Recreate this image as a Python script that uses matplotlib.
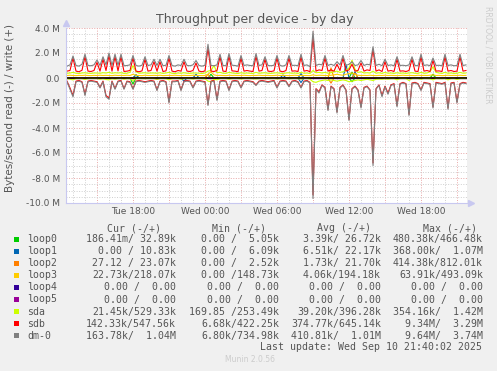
import matplotlib
matplotlib.use("Agg")
import matplotlib.pyplot as plt
import matplotlib.dates as mdates
from matplotlib.patches import Rectangle
from matplotlib.ticker import FuncFormatter
import numpy as np
import pandas as pd

# 15 minute samples, Tue 12:30 -> Wed 21:45
times = pd.date_range("2025-09-09 12:30", periods=134, freq="15min")
n = len(times)

# values in MB/s, write (+)
dm0_w = [0.95, 1.05, 1.76, 1.0, 0.95, 1.1, 1.9, 1.0, 0.98, 1.05,
         1.44, 1.0, 1.7, 1.05, 2.0, 1.0, 1.9, 1.02, 1.9, 0.98,
         1.0, 1.05, 1.8, 1.0, 0.95, 1.02, 1.7, 1.0, 1.05, 1.5,
         1.0, 1.5, 0.98, 1.02, 1.8, 1.0, 0.95, 1.05, 1.0, 1.5,
         1.0, 0.98, 1.05, 1.4, 1.0, 0.95, 1.02, 2.7, 1.0, 0.98,
         1.05, 1.9, 1.0, 0.98, 1.95, 1.02, 1.0, 0.95, 1.8, 1.0,
         1.05, 1.0, 0.98, 1.95, 1.0, 1.05, 1.7, 1.0, 0.98, 1.02,
         1.8, 1.0, 0.95, 1.05, 1.8, 1.0, 1.02, 0.98, 1.9, 1.0,
         1.05, 0.9, 3.74, 1.0, 1.1, 1.05, 1.8, 1.0, 1.1, 1.0,
         1.3, 1.05, 1.8, 1.0, 1.1, 1.3, 1.0, 1.05, 1.4, 1.0,
         1.1, 1.05, 2.5, 1.0, 1.1, 0.98, 1.5, 1.0, 1.05, 0.98,
         1.7, 1.0, 1.02, 0.98, 1.05, 1.7, 1.0, 0.98, 1.9, 1.0,
         1.05, 0.98, 1.6, 1.0, 1.02, 0.98, 1.9, 1.0, 1.05, 0.98,
         1.0, 1.9, 1.0, 1.05]
sdb_w = [0.55, 0.6, 1.6, 0.55, 0.5, 0.62, 1.7, 0.55, 0.52, 0.6,
         1.25, 0.55, 1.5, 0.6, 1.8, 0.55, 1.7, 0.57, 1.7, 0.52,
         0.55, 0.6, 1.6, 0.55, 0.5, 0.57, 1.5, 0.55, 0.6, 1.3,
         0.55, 1.3, 0.52, 0.57, 1.6, 0.55, 0.5, 0.6, 0.55, 1.3,
         0.55, 0.52, 0.6, 1.2, 0.55, 0.5, 0.57, 2.4, 0.55, 0.52,
         0.6, 1.7, 0.55, 0.52, 1.75, 0.57, 0.55, 0.5, 1.6, 0.55,
         0.6, 0.55, 0.52, 1.75, 0.55, 0.6, 1.5, 0.55, 0.52, 0.57,
         1.6, 0.55, 0.5, 0.6, 1.6, 0.55, 0.57, 0.52, 1.7, 0.55,
         0.6, 0.5, 3.29, 0.55, 0.65, 0.6, 1.6, 0.55, 0.65, 0.55,
         1.1, 0.6, 1.6, 0.55, 0.65, 1.1, 0.55, 0.6, 1.2, 0.55,
         0.65, 0.6, 2.3, 0.55, 0.65, 0.52, 1.3, 0.55, 0.6, 0.52,
         1.5, 0.55, 0.57, 0.52, 0.6, 1.5, 0.55, 0.52, 1.7, 0.55,
         0.6, 0.52, 1.4, 0.55, 0.57, 0.52, 1.7, 0.55, 0.6, 0.52,
         0.55, 1.7, 0.55, 0.6]
sda_w = [0.38, 0.4, 0.45, 0.38, 0.36, 0.4, 0.42, 0.38, 0.37, 0.4,
         0.4, 0.38, 0.42, 0.4, 0.45, 0.38, 0.42, 0.4, 0.42, 0.37,
         0.38, 0.45, 1.0, 0.5, 0.38, 0.4, 0.42, 0.38, 0.4, 0.4,
         0.38, 0.42, 0.37, 0.4, 0.45, 0.38, 0.36, 0.4, 0.38, 0.42,
         0.38, 0.37, 0.4, 0.4, 0.38, 0.36, 0.4, 0.55, 0.6, 1.0,
         0.42, 0.45, 0.38, 0.37, 0.45, 0.4, 0.38, 0.36, 0.42, 0.38,
         0.4, 0.38, 0.37, 0.45, 0.38, 0.4, 0.42, 0.38, 0.37, 0.4,
         0.42, 0.38, 0.36, 0.4, 0.42, 0.38, 0.4, 0.37, 0.45, 0.38,
         0.4, 0.36, 0.6, 0.42, 0.45, 0.4, 0.45, 0.38, 0.42, 0.5,
         0.55, 0.45, 0.5, 0.6, 0.8, 1.42, 0.7, 0.45, 0.5, 0.4,
         0.42, 0.4, 0.55, 0.38, 0.42, 0.37, 0.45, 0.38, 0.4, 0.37,
         0.42, 0.38, 0.4, 0.37, 0.4, 0.42, 0.38, 0.37, 0.45, 0.38,
         0.4, 0.5, 0.9, 0.45, 0.4, 0.37, 0.45, 0.38, 0.4, 0.37,
         0.38, 0.45, 0.38, 0.4]
loop3_w = [0.2, 0.22, 0.2, 0.19, 0.21, 0.2, 0.22, 0.2, 0.19, 0.21,
           0.2, 0.22, 0.2, 0.21, 0.2, 0.19, 0.22, 0.2, 0.21, 0.2,
           0.22, 0.2, 0.3, 0.21, 0.2, 0.19, 0.22, 0.2, 0.2, 0.21,
           0.2, 0.22, 0.19, 0.2, 0.21, 0.2, 0.22, 0.2, 0.19, 0.21,
           0.2, 0.2, 0.22, 0.21, 0.2, 0.19, 0.2, 0.3, 0.49, 0.25,
           0.2, 0.21, 0.2, 0.19, 0.22, 0.2, 0.21, 0.2, 0.2, 0.22,
           0.2, 0.19, 0.21, 0.2, 0.22, 0.2, 0.2, 0.21, 0.19, 0.2,
           0.22, 0.2, 0.21, 0.2, 0.19, 0.2, 0.22, 0.2, 0.21, 0.2,
           0.2, 0.19, 0.25, 0.2, 0.22, 0.21, 0.2, 0.2, 0.22, 0.25,
           0.3, 0.25, 0.22, 0.3, 0.35, 0.4, 0.3, 0.22, 0.2, 0.21,
           0.2, 0.22, 0.2, 0.19, 0.21, 0.2, 0.22, 0.2, 0.21, 0.2,
           0.19, 0.2, 0.22, 0.2, 0.21, 0.2, 0.19, 0.22, 0.2, 0.21,
           0.2, 0.22, 0.25, 0.2, 0.21, 0.19, 0.2, 0.22, 0.2, 0.21,
           0.2, 0.22, 0.2, 0.21]

# read (-)
dm0_r = [-0.3, -0.9, -1.5, -0.3, -0.25, -0.35, -1.4, -0.3, -0.25, -0.3,
         -0.35, -0.8, -0.3, -1.5, -1.7, -0.3, -0.9, -0.3, -0.25, -0.9,
         -0.3, -0.35, -0.9, -0.3, -0.25, -0.3, -0.35, -0.3, -0.25, -0.3,
         -1.0, -0.3, -0.25, -0.35, -2.0, -0.3, -0.3, -0.25, -1.0, -0.3,
         -0.25, -0.3, -0.8, -0.3, -0.25, -0.3, -0.35, -2.2, -0.3, -0.25,
         -1.8, -0.3, -0.25, -0.3, -1.0, -0.3, -0.25, -0.3, -0.8, -0.3,
         -0.25, -0.3, -0.35, -0.6, -0.3, -0.25, -0.3, -0.35, -0.3, -0.25,
         -0.8, -0.3, -0.25, -0.3, -0.7, -0.3, -0.25, -0.35, -0.8, -0.3,
         -0.25, -0.4, -9.64, -0.9, -1.2, -0.6, -0.8, -2.6, -0.7, -0.9,
         -2.8, -0.8, -0.6, -1.0, -3.4, -0.9, -0.7, -1.0, -2.4, -0.8,
         -0.7, -1.0, -7.0, -0.9, -0.6, -1.5, -0.7, -1.3, -0.6, -0.5,
         -2.3, -0.5, -0.4, -0.5, -3.0, -0.45, -0.4, -0.5, -1.0, -0.4,
         -0.45, -0.5, -2.4, -0.4, -0.45, -0.5, -0.4, -2.5, -0.45, -0.4,
         -2.0, -0.5, -0.4, -0.45]
sdb_r = [-0.25, -0.8, -1.4, -0.25, -0.2, -0.3, -1.3, -0.25, -0.2, -0.25,
         -0.3, -0.75, -0.25, -1.4, -1.6, -0.25, -0.85, -0.25, -0.2, -0.85,
         -0.25, -0.3, -0.85, -0.25, -0.2, -0.25, -0.3, -0.25, -0.2, -0.25,
         -0.95, -0.25, -0.2, -0.3, -1.9, -0.25, -0.25, -0.2, -0.95, -0.25,
         -0.2, -0.25, -0.75, -0.25, -0.2, -0.25, -0.3, -2.1, -0.25, -0.2,
         -1.7, -0.25, -0.2, -0.25, -0.95, -0.25, -0.2, -0.25, -0.75, -0.25,
         -0.2, -0.25, -0.3, -0.55, -0.25, -0.2, -0.25, -0.3, -0.25, -0.2,
         -0.75, -0.25, -0.2, -0.25, -0.65, -0.25, -0.2, -0.3, -0.75, -0.25,
         -0.2, -0.35, -9.34, -0.85, -1.1, -0.55, -0.75, -2.5, -0.65, -0.85,
         -2.7, -0.75, -0.55, -0.95, -3.3, -0.85, -0.65, -0.95, -2.3, -0.75,
         -0.65, -0.95, -6.8, -0.85, -0.55, -1.4, -0.65, -1.2, -0.55, -0.45,
         -2.2, -0.45, -0.35, -0.45, -2.9, -0.4, -0.35, -0.45, -0.95, -0.35,
         -0.4, -0.45, -2.3, -0.35, -0.4, -0.45, -0.35, -2.4, -0.4, -0.35,
         -1.9, -0.45, -0.35, -0.4]
sda_r = [-0.05, -0.1, -0.15, -0.05, -0.04, -0.05, -0.12, -0.05, -0.04, -0.05,
         -0.05, -0.1, -0.05, -0.12, -0.15, -0.05, -0.1, -0.05, -0.04, -0.1,
         -0.05, -0.06, -0.2, -0.05, -0.04, -0.05, -0.06, -0.05, -0.04, -0.05,
         -0.1, -0.05, -0.04, -0.06, -0.15, -0.05, -0.05, -0.04, -0.1, -0.05,
         -0.04, -0.05, -0.08, -0.05, -0.04, -0.05, -0.06, -0.25, -0.3, -0.1,
         -0.15, -0.05, -0.04, -0.05, -0.1, -0.05, -0.04, -0.05, -0.08, -0.05,
         -0.04, -0.05, -0.06, -0.08, -0.05, -0.04, -0.05, -0.06, -0.05, -0.04,
         -0.08, -0.05, -0.04, -0.05, -0.07, -0.05, -0.04, -0.06, -0.08, -0.05,
         -0.04, -0.1, -0.3, -0.35, -0.25, -0.2, -0.15, -0.2, -0.15, -0.2,
         -0.25, -0.2, -0.15, -0.2, -0.3, -0.25, -0.2, -0.15, -0.2, -0.15,
         -0.1, -0.15, -0.2, -0.1, -0.08, -0.1, -0.06, -0.1, -0.05, -0.05,
         -0.15, -0.05, -0.04, -0.05, -0.2, -0.05, -0.04, -0.05, -0.1, -0.04,
         -0.05, -0.06, -0.15, -0.04, -0.05, -0.06, -0.04, -0.15, -0.05, -0.04,
         -0.12, -0.05, -0.04, -0.05]

# small devices, mostly zero: sample index -> value
loop0_w = {23: 0.25, 48: 0.3, 95: 0.47, 122: 0.3}
loop0_r = {22: -0.48, 95: -0.3}
loop1_w = {23: 0.25, 43: 0.3, 72: 0.24, 78: 0.35, 93: 1.07, 96: 0.5}
loop1_r = {39: -0.25, 78: -0.37}
loop2_w = {47: 0.3, 88: 0.81, 96: 0.4}
loop2_r = {30: -0.1, 88: -0.41}
loop3_r = {48: -0.06, 95: -0.05}


def sparse(d):
    a = np.zeros(n)
    for k, v in d.items():
        a[k] = v
    return a


names = ["loop0", "loop1", "loop2", "loop3", "loop4", "loop5", "sda", "sdb", "dm-0"]
colors = ["#00cc00", "#0066b3", "#ff8000", "#ffcc00", "#330099", "#990099",
          "#ccff00", "#ff0000", "#808080"]
cur_col = ["186.41m/ 32.89k", "0.00 / 10.83k", "27.12 / 23.07k", "22.73k/218.07k",
           "0.00 /  0.00", "0.00 /  0.00", "21.45k/529.33k", "142.33k/547.56k",
           "163.78k/  1.04M"]
min_col = ["0.00 /  5.05k", "0.00 /  6.09k", "0.00 /  2.52k", "0.00 /148.73k",
           "0.00 /  0.00", "0.00 /  0.00", "169.85 /253.49k", "6.68k/422.25k",
           "6.80k/734.98k"]
avg_col = ["3.39k/ 26.72k", "6.51k/ 22.17k", "1.73k/ 21.70k", "4.06k/194.18k",
           "0.00 /  0.00", "0.00 /  0.00", "39.20k/396.28k", "374.77k/645.14k",
           "410.81k/  1.01M"]
max_col = ["480.38k/466.48k", "368.00k/  1.07M", "414.38k/812.01k", "63.91k/493.09k",
           "0.00 /  0.00", "0.00 /  0.00", "354.16k/  1.42M", "9.34M/  3.29M",
           "9.64M/  3.74M"]

series = {
    "loop0": (sparse(loop0_w), sparse(loop0_r)),
    "loop1": (sparse(loop1_w), sparse(loop1_r)),
    "loop2": (sparse(loop2_w), sparse(loop2_r)),
    "loop3": (np.array(loop3_w), sparse(loop3_r)),
    "loop4": (np.zeros(n), np.zeros(n)),
    "loop5": (np.zeros(n), np.zeros(n)),
    "sda": (np.array(sda_w), np.array(sda_r)),
    "sdb": (np.array(sdb_w), np.array(sdb_r)),
    "dm-0": (np.array(dm0_w), np.array(dm0_r)),
}

W, H = 497, 371
fig = plt.figure(figsize=(W / 100, H / 100), dpi=100, facecolor="#f0f0f0")
L, R, T, B = 66, 467, 28, 203
ax = fig.add_axes([L / W, 1 - B / H, (R - L) / W, (B - T) / H])
ax.set_facecolor("white")

for name, c in zip(names, colors):
    w, r = series[name]
    ax.plot(times, w * 1e6, color=c, lw=0.8)
    ax.plot(times, r * 1e6, color=c, lw=0.8)
ax.axhline(0, color="black", lw=1.1)

ax.set_ylim(-10e6, 4e6)
ax.set_xlim(pd.Timestamp("2025-09-09 12:25"), pd.Timestamp("2025-09-10 21:50"))

ax.set_yticks(np.arange(-10e6, 4.1e6, 2e6))
ax.set_yticks(np.arange(-10e6, 4.1e6, 0.5e6), minor=True)
ax.set_yticklabels(["%.1f M" % (v / 1e6) if v != 0 else "0.0"
                    for v in np.arange(-10e6, 4.1e6, 2e6)])
ax.xaxis.set_major_locator(mdates.HourLocator(byhour=range(0, 24, 3)))
ax.xaxis.set_minor_locator(mdates.HourLocator())


def xlab(v, pos):
    d = mdates.num2date(v)
    return d.strftime("%a %H:%M") if d.hour % 6 == 0 else ""


ax.xaxis.set_major_formatter(FuncFormatter(xlab))

ax.grid(which="minor", color="#cfcfcf", lw=0.7, ls=(0, (1, 1.6)))
ax.grid(which="major", color="#e8a8a8", lw=0.7, ls=(0, (1, 1.6)))
ax.set_axisbelow(True)
ax.tick_params(which="both", length=0, labelsize=6.5, labelcolor="#555555")
ax.tick_params(axis="y", pad=4.5)
ax.tick_params(axis="x", pad=3)
for s in ["top", "right"]:
    ax.spines[s].set_visible(False)
for s in ["left", "bottom"]:
    ax.spines[s].set_color("#c8c8f0")
    ax.spines[s].set_linewidth(0.8)
ax.plot([0], [1.03], marker="^", ms=4, color="#c8c8f0", transform=ax.transAxes, clip_on=False)
ax.plot([1.01], [0], marker=">", ms=4, color="#c8c8f0", transform=ax.transAxes, clip_on=False)

fig.text(255 / W, 1 - 19 / H, "Throughput per device - by day", ha="center", va="center",
         fontsize=9, color="#555555")
fig.text(10 / W, 1 - 108 / H, "Bytes/second read (-) / write (+)", rotation=90,
         ha="center", va="center", fontsize=7.5, color="#555555")
fig.text(488 / W, 1 - 6 / H, "RRDTOOL / TOBI OETIKER", rotation=270, ha="center", va="top",
         fontsize=5.5, color="#cccccc")

mono = dict(family="DejaVu Sans Mono", fontsize=7.1, color="#555555", va="center")
col_x = [176, 279, 381, 483]
head_x = [161, 266, 371, 477]
for hx, h in zip(head_x, ["Cur (-/+)", "Min (-/+)", "Avg (-/+)", "Max (-/+)"]):
    fig.text(hx / W, 1 - 228 / H, h, ha="right", **mono)
for i, name in enumerate(names):
    y = 239 + 12.1 * i
    fig.add_artist(Rectangle((14 / W, 1 - (y + 2.5) / H), 5 / W, 5 / H,
                             transform=fig.transFigure, color=colors[i], lw=0))
    fig.text(27 / W, 1 - y / H, name, ha="left", **mono)
    for cx, col in zip(col_x, [cur_col, min_col, avg_col, max_col]):
        fig.text(cx / W, 1 - y / H, col[i], ha="right", **mono)
fig.text(482 / W, 1 - 347 / H, "Last update: Wed Sep 10 21:40:02 2025", ha="right", **mono)
fig.text(250 / W, 1 - 360 / H, "Munin 2.0.56", ha="center", va="center",
         fontsize=5.5, color="#cccccc")

fig.savefig("out.png", dpi=100, facecolor=fig.get_facecolor())
